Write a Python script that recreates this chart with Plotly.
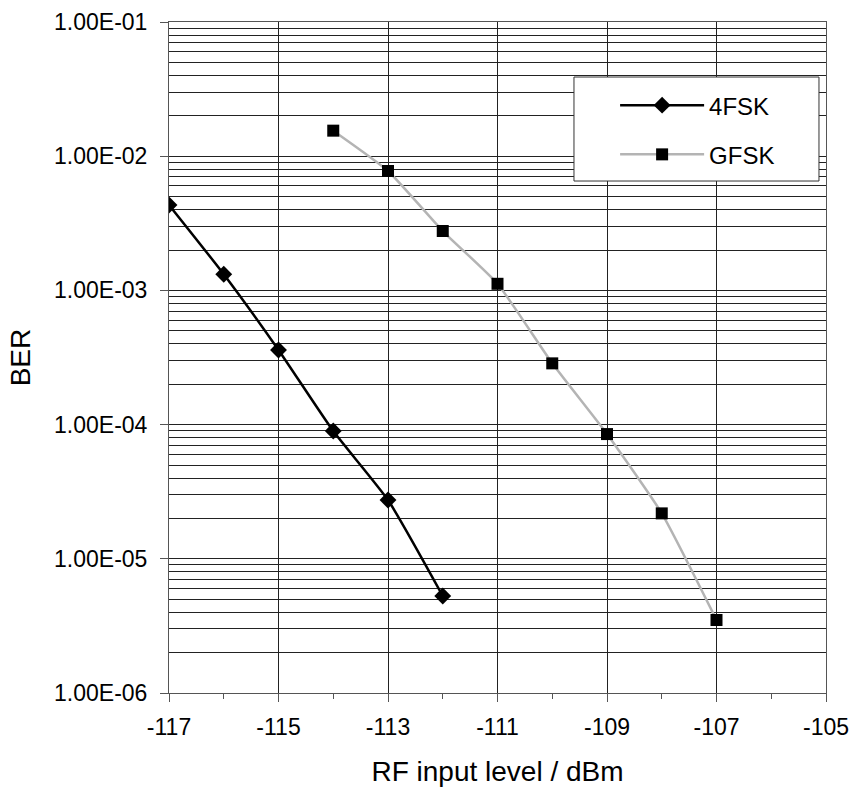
import plotly.graph_objects as go

# Data
rf_4fsk = [-117, -116, -115, -114, -113, -112]
ber_4fsk = [4.33e-3, 1.32e-3, 3.6e-4, 8.95e-5, 2.74e-5, 5.28e-6]
rf_gfsk = [-114, -113, -112, -111, -110, -109, -108, -107]
ber_gfsk = [1.55e-2, 7.76e-3, 2.77e-3, 1.12e-3, 2.86e-4, 8.5e-5, 2.18e-5, 3.5e-6]

y_tickvals = [1e-6, 1e-5, 1e-4, 1e-3, 1e-2, 1e-1]
y_ticktext = ["1.00E-06", "1.00E-05", "1.00E-04", "1.00E-03", "1.00E-02", "1.00E-01"]
x_tickvals = [-117, -115, -113, -111, -109, -107, -105]
x_ticktext = ["-117", "-115", "-113", "-111", "-109", "-107", "-105"]

minor_y = [m * d for d in y_tickvals[:-1] for m in range(2, 10)]

FONT = "Liberation Sans, Arial, sans-serif"

fig = go.Figure()
fig.add_trace(go.Scatter(
    x=rf_4fsk, y=ber_4fsk, name="4FSK", mode="lines+markers",
    line=dict(color="black", width=2.5, shape="spline", smoothing=0.5),
    marker=dict(symbol="diamond", size=13, color="black"),
    legendgroup="a",
))
fig.add_trace(go.Scatter(
    x=rf_gfsk, y=ber_gfsk, name="GFSK", mode="lines+markers",
    line=dict(color="#b4b4b4", width=2.5, shape="spline", smoothing=0.5),
    marker=dict(symbol="square", size=12, color="black"),
    legendgroup="b",
))

# legend frame (paper coordinates)
fig.add_shape(type="rect", xref="paper", yref="paper",
              x0=0.6164, x1=0.9893, y0=0.7630, y1=0.9180,
              fillcolor="white", line=dict(color="#333333", width=1), layer="above")

fig.update_layout(
    width=853, height=787,
    margin=dict(l=169, r=27, t=22, b=94),
    paper_bgcolor="white", plot_bgcolor="white",
    font=dict(family=FONT, size=23, color="black"),
    showlegend=True,
    legend=dict(
        x=0.679, y=0.909, xanchor="left", yanchor="top",
        bgcolor="rgba(0,0,0,0)", borderwidth=0,
        font=dict(size=24), tracegroupgap=15, itemwidth=84,
    ),
    xaxis=dict(
        range=[-117, -105], tickvals=x_tickvals, ticktext=x_ticktext,
        showgrid=True, gridcolor="#222222", gridwidth=1,
        showline=True, linecolor="#555555", linewidth=1, mirror=True,
        ticks="outside", ticklen=8, tickcolor="#555555",
        ticklabelstandoff=5,
        minor=dict(tickvals=[-116, -114, -112, -110, -108, -106], ticks="outside",
                   ticklen=5, tickcolor="#555555", showgrid=False),
        zeroline=False,
        title=dict(text="RF input level / dBm", standoff=24),
        automargin=False,
    ),
    yaxis=dict(
        type="log", range=[-6, -1], tickvals=y_tickvals, ticktext=y_ticktext,
        showgrid=True, gridcolor="#222222", gridwidth=1,
        showline=True, linecolor="#555555", linewidth=1, mirror=True,
        ticks="outside", ticklen=8, tickcolor="#555555",
        ticklabelstandoff=8,
        minor=dict(tickvals=minor_y, showgrid=True, gridcolor="#222222", gridwidth=1, ticks=""),
        zeroline=False,
        title=dict(text="BER", standoff=15),
        automargin=False,
    ),
)

fig.write_html(
    "out.html",
    config={"displayModeBar": False},
    post_script="document.body.style.margin='0';document.body.style.overflow='hidden';",
)
